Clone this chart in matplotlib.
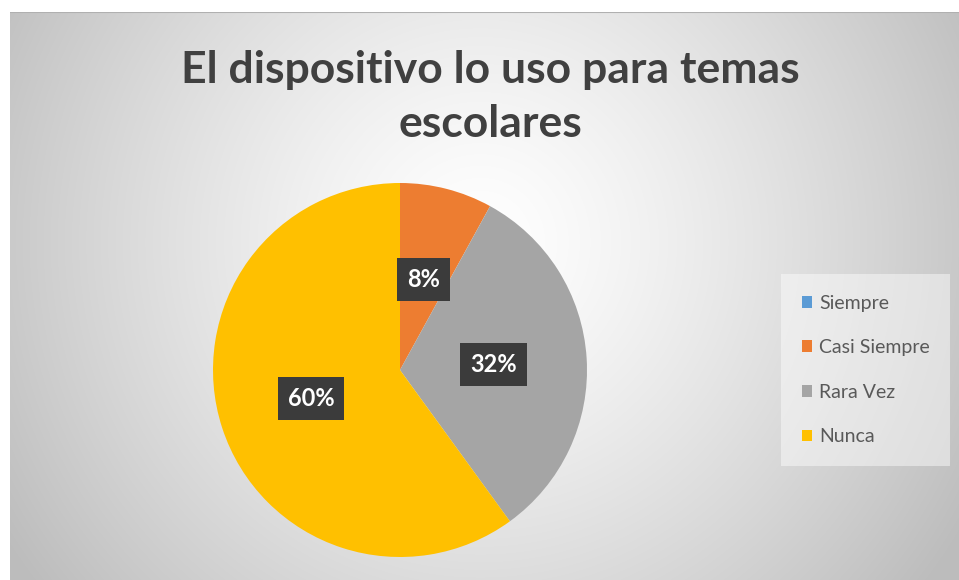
import matplotlib
matplotlib.use("Agg")
import matplotlib.pyplot as plt
import numpy as np

# data
categories = ["Siempre", "Casi Siempre", "Rara Vez", "Nunca"]
percentages = [0, 8, 32, 60]
colors = ["#5B9BD5", "#ED7D31", "#A5A5A5", "#FFC000"]
title = "El dispositivo lo uso para temas\nescolares"

W, H = 959, 580
FONT = "Lato"
fig = plt.figure(figsize=(W / 100, H / 100), dpi=100)
fig.patch.set_facecolor("white")

# ── chart area background: radial grey gradient ──
left, top = 10, 12
bg = fig.add_axes([left / W, 0, (W - left) / W, (H - top) / H], zorder=0)
gx, gy = np.meshgrid(np.arange(W - left), np.arange(H - top))
dist = np.hypot(gx - 470, gy - 230) / 560
dist = np.clip(dist, 0, 1)
shade = 1.0 - 0.26 * dist ** 1.3
bg.imshow(np.dstack([shade] * 3), aspect="auto", extent=(0, 1, 0, 1), origin="upper")
bg.plot([0, 1], [1, 1], color="#b0b0b0", lw=1.5, transform=bg.transAxes)
bg.axis("off")

# ── pie ──
cx, cy, r = 400, 370, 187
ax = fig.add_axes([(cx - r) / W, (H - cy - r) / H, 2 * r / W, 2 * r / H], zorder=2)
wedges, texts, autotexts = ax.pie(
    percentages,
    colors=colors,
    startangle=90,
    counterclock=False,
    radius=1,
    autopct=lambda p: f"{p:.0f}%" if p > 0.5 else "",
    pctdistance=0.5,
    wedgeprops=dict(linewidth=0),
    textprops=dict(family=FONT),
)
for t in autotexts:
    t.set_color("white")
    t.set_fontsize(17)
    t.set_fontweight("bold")
    t.set_bbox(dict(boxstyle="square,pad=0.42", facecolor="#3b3b3b", edgecolor="none"))
ax.set_xlim(-1, 1)
ax.set_ylim(-1, 1)
ax.axis("off")

# ── title ──
fig.text(490 / W, 1 - 97 / H, title, ha="center", va="center",
         fontsize=32, fontweight="bold", color="#404040",
         family=FONT, linespacing=1.4, zorder=3)

# ── legend ──
leg = fig.legend(
    wedges, categories,
    loc="upper left",
    bbox_to_anchor=(787 / W, 1 - 280 / H),
    frameon=True, labelspacing=1.42,
    handlelength=0.55, handleheight=0.55, handletextpad=0.35,
    borderpad=0.75, borderaxespad=0,
    prop=dict(family=FONT, size=14),
)
leg.get_frame().set_facecolor("white")
leg.get_frame().set_alpha(0.45)
leg.get_frame().set_edgecolor("none")
leg.get_frame().set_boxstyle("square")
for t in leg.get_texts():
    t.set_color("#595959")
leg.set_zorder(4)

fig.savefig("out.png", dpi=100)
